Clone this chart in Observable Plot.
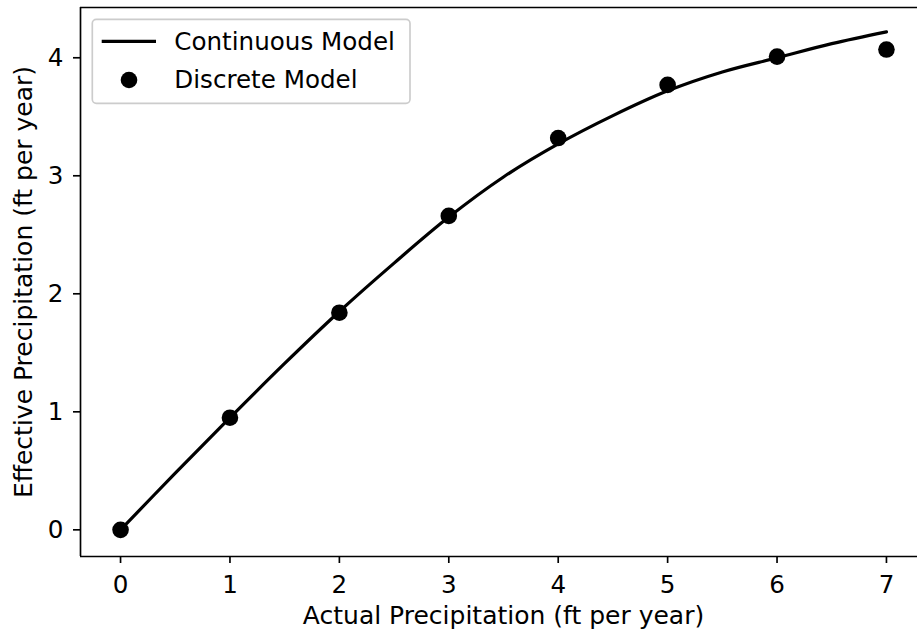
<!DOCTYPE html>
<html>
<head>
<meta charset="utf-8">
<script src="https://cdn.jsdelivr.net/npm/d3@7"></script>
<script src="https://cdn.jsdelivr.net/npm/@observablehq/plot@0.6"></script>
<style>
html, body { margin: 0; padding: 0; background: #fff; overflow: hidden; width: 917px; height: 637px; }
#chart svg { display: block; max-width: none !important; }
</style>
</head>
<body>
<div id="chart"></div>
<script>
// Continuous model curve
const curveX = [0, 0.5, 1, 1.5, 2, 2.5, 3, 3.5, 4, 4.5, 5, 5.5, 6, 6.5, 7];
const curveY = [0, 0.48, 0.95, 1.41, 1.85, 2.26, 2.65, 2.99, 3.27, 3.51, 3.72, 3.88, 4.00, 4.12, 4.22];
// Discrete model points
const pointX = [0, 1, 2, 3, 4, 5, 6, 7];
const pointY = [0, 0.95, 1.84, 2.66, 3.32, 3.77, 4.01, 4.07];
// Ticks and labels
const xTicks = [0, 1, 2, 3, 4, 5, 6, 7];
const yTicks = [0, 1, 2, 3, 4];
const xLabel = "Actual Precipitation (ft per year)";
const yLabel = "Effective Precipitation (ft per year)";
const seriesNames = ["Continuous Model", "Discrete Model"];

const curveData = curveX.map((x, i) => ({x, y: curveY[i]}));
const pointData = pointX.map((x, i) => ({x, y: pointY[i]}));

const xDomain = [-0.366, 7.366];
const yDomain = [-0.226, 4.426];
const FS = 24.6;
const LFS = 25;

const chart = Plot.plot({
  width: 926,
  height: 637,
  marginLeft: 80,
  marginRight: 0,
  marginTop: 7,
  marginBottom: 81,
  style: {fontFamily: "DejaVu Sans", fontSize: FS + "px", color: "#000", background: "#fff", overflow: "visible"},
  x: {domain: xDomain},
  y: {domain: yDomain},
  marks: [
    Plot.axisX({ticks: xTicks, tickFormat: d => String(d), tickSize: 7, tickPadding: 12.5, strokeWidth: 1.67, label: null, fontSize: FS}),
    Plot.axisY({ticks: yTicks, tickFormat: d => String(d), tickSize: 7, tickPadding: 10, strokeWidth: 1.67, label: null, fontSize: FS}),
    Plot.text([xLabel], {frameAnchor: "bottom", dy: 67.3, lineAnchor: "bottom", textAnchor: "middle", fontSize: LFS, fill: "#000"}),
    Plot.text([yLabel], {frameAnchor: "left", dx: -48.3, rotate: -90, lineAnchor: "bottom", textAnchor: "middle", fontSize: LFS, fill: "#000"}),
    Plot.ruleX([xDomain[0]], {stroke: "#000", strokeWidth: 1.67}),
    Plot.ruleY([yDomain[0], yDomain[1]], {stroke: "#000", strokeWidth: 1.67}),
    Plot.line(curveData, {x: "x", y: "y", curve: "catmull-rom", stroke: "#000", strokeWidth: 3.2}),
    Plot.dot(pointData, {x: "x", y: "y", r: 8.3, fill: "#000", stroke: "none"})
  ]
});
document.getElementById("chart").appendChild(chart);

// Legend (matplotlib style, upper left)
const svg = d3.select(chart);
const lg = svg.append("g").attr("font-family", "DejaVu Sans").attr("font-size", FS + "px").attr("text-anchor", "start");
lg.append("rect").attr("x", 92.3).attr("y", 19.3).attr("width", 317.7).attr("height", 84)
  .attr("rx", 4).attr("fill", "#fff").attr("fill-opacity", 0.8).attr("stroke", "#cccccc").attr("stroke-width", 1.67);
lg.append("line").attr("x1", 101.7).attr("x2", 156).attr("y1", 41.3).attr("y2", 41.3)
  .attr("stroke", "#000").attr("stroke-width", 3.2);
lg.append("circle").attr("cx", 129).attr("cy", 80).attr("r", 8.3).attr("fill", "#000");
lg.append("text").attr("x", 174.3).attr("y", 49.5).attr("fill", "#000").text(seriesNames[0]);
lg.append("text").attr("x", 174.3).attr("y", 87.8).attr("fill", "#000").text(seriesNames[1]);
</script>
</body>
</html>
